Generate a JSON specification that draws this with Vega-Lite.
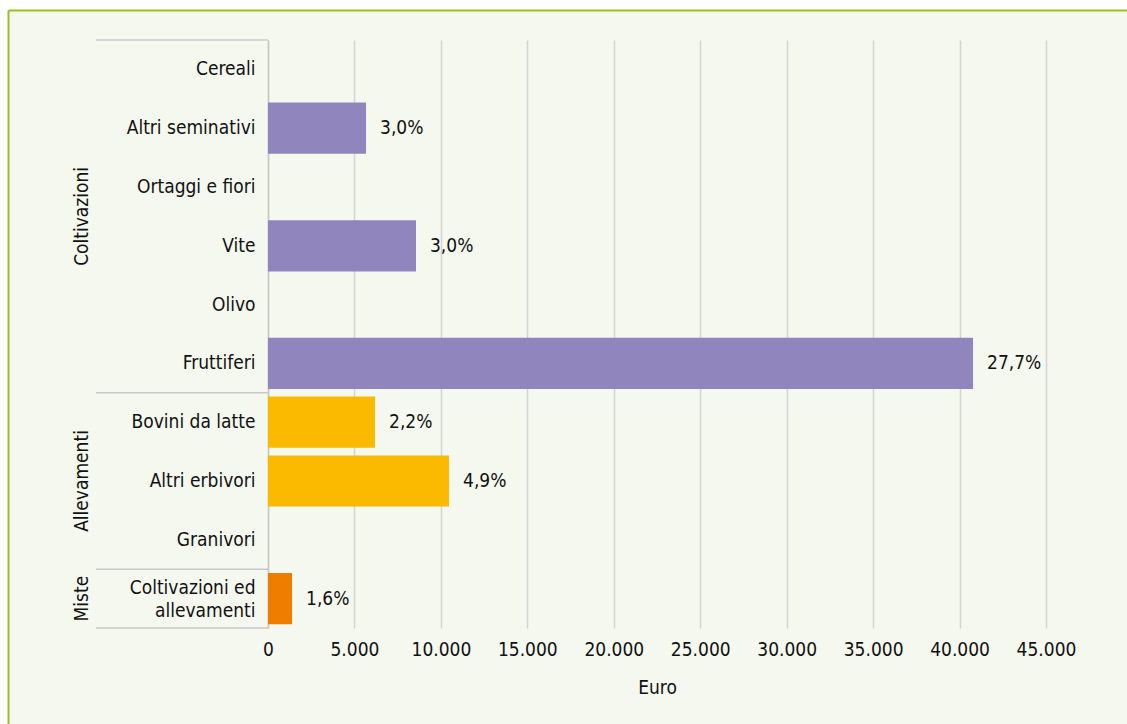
{
  "$schema": "https://vega.github.io/schema/vega-lite/v6.json",
  "width": 1119,
  "height": 714,
  "autosize": {"type": "none"},
  "padding": {"left": 8, "top": 10, "right": 0, "bottom": 0},
  "background": "#FFFFFF",
  "config": {
    "view": {"stroke": null, "fill": "#F5F8EE"},
    "font": "Liberation Sans Narrow, DejaVu Sans Condensed, Roboto",
    "locale": {"number": {"decimal": ",", "thousands": ".", "grouping": [3], "currency": ["", " €"]}}
  },
  "data": {
    "values": [
      {"gruppo": "Coltivazioni", "ote": "Cereali", "euro": null, "quota": null},
      {"gruppo": "Coltivazioni", "ote": "Altri seminativi", "euro": 5670, "quota": "3,0%"},
      {"gruppo": "Coltivazioni", "ote": "Ortaggi e fiori", "euro": null, "quota": null},
      {"gruppo": "Coltivazioni", "ote": "Vite", "euro": 8560, "quota": "3,0%"},
      {"gruppo": "Coltivazioni", "ote": "Olivo", "euro": null, "quota": null},
      {"gruppo": "Coltivazioni", "ote": "Fruttiferi", "euro": 40780, "quota": "27,7%"},
      {"gruppo": "Allevamenti", "ote": "Bovini da latte", "euro": 6190, "quota": "2,2%"},
      {"gruppo": "Allevamenti", "ote": "Altri erbivori", "euro": 10470, "quota": "4,9%"},
      {"gruppo": "Allevamenti", "ote": "Granivori", "euro": null, "quota": null},
      {"gruppo": "Miste", "ote": "Coltivazioni ed allevamenti", "euro": 1390, "quota": "1,6%"}
    ]
  },
  "resolve": {"scale": {"y": "independent"}, "axis": {"x": "independent", "y": "independent"}},
  "layer": [
    {
      "encoding": {
        "y": {
          "field": "ote", "type": "nominal", "sort": null,
          "scale": {"domain": ["Cereali", "Altri seminativi", "Ortaggi e fiori", "Vite", "Olivo", "Fruttiferi", "Bovini da latte", "Altri erbivori", "Granivori", "Coltivazioni ed allevamenti"], "range": [30, 618], "paddingInner": 0, "paddingOuter": 0}
        }
      },
      "layer": [
        {
          "mark": {"type": "bar", "height": {"band": 0.87}},
          "encoding": {
            "y": {
              "field": "ote", "type": "nominal", "sort": null,
              "axis": {
                "title": null,
                "offset": -260,
                "domainColor": "#c8c8c8",
                "domainWidth": 1.5,
                "ticks": false,
                "grid": false,
                "labelPadding": 13,
                "labelFontSize": 19,
                "labelColor": "#111111",
                "labelLimit": 220,
                "labelLineHeight": 23,
                "labelOffset": {"condition": {"test": "datum.value === 'Coltivazioni ed allevamenti'", "value": -11}, "value": 0},
                "labelExpr": "datum.value === 'Coltivazioni ed allevamenti' ? ['Coltivazioni ed', 'allevamenti'] : datum.value"
              }
            },
            "x": {
              "field": "euro", "type": "quantitative",
              "scale": {"domain": [-15039, 49685], "nice": false, "zero": false},
              "axis": {
                "orient": "bottom",
                "offset": -96,
                "values": [0, 5000, 10000, 15000, 20000, 25000, 30000, 35000, 40000, 45000],
                "format": ",d",
                "labelOverlap": false,
                "labelFlush": false,
                "grid": false,
                "domain": false,
                "ticks": true, "tickSize": -588, "tickColor": "#d4d4d4", "tickWidth": 1.5,
                "labelPadding": 600, "labelFontSize": 19, "labelColor": "#111111",
                "title": "Euro", "titleFontSize": 19, "titleFontWeight": "normal", "titleColor": "#111111",
                "titleX": 649, "titlePadding": 19
              }
            },
            "x2": {"datum": 0},
            "color": {
              "field": "gruppo", "type": "nominal",
              "scale": {"domain": ["Coltivazioni", "Allevamenti", "Miste"], "range": ["#9085BD", "#FBBA00", "#EF7D00"]},
              "legend": null
            }
          }
        },
        {
          "mark": {"type": "text", "align": "left", "baseline": "middle", "dx": 14, "fontSize": 19, "color": "#111111"},
          "encoding": {
            "x": {"field": "euro", "type": "quantitative"},
            "text": {"field": "quota"}
          }
        },
        {
          "transform": [
            {"window": [{"op": "row_number", "as": "k"}], "groupby": ["gruppo"]},
            {"filter": "datum.k === 1"}
          ],
          "mark": {"type": "rule", "color": "#c8c8c8", "strokeWidth": 1.5},
          "encoding": {
            "y": {"field": "ote", "type": "nominal", "sort": null, "bandPosition": 0},
            "x": {"datum": -9948},
            "x2": {"datum": 0}
          }
        },
        {
          "transform": [
            {"window": [{"op": "row_number", "as": "k"}, {"op": "count", "as": "n"}], "frame": [null, null]},
            {"filter": "datum.k === datum.n"}
          ],
          "mark": {"type": "rule", "color": "#c8c8c8", "strokeWidth": 1.5},
          "encoding": {
            "y": {"field": "ote", "type": "nominal", "sort": null, "bandPosition": 1},
            "x": {"datum": -9948},
            "x2": {"datum": 0}
          }
        }
      ]
    },
    {
      "transform": [
        {"window": [{"op": "row_number", "as": "pos"}]},
        {"aggregate": [{"op": "mean", "field": "pos", "as": "pos"}], "groupby": ["gruppo"]}
      ],
      "mark": {"type": "text", "align": "center", "baseline": "middle", "angle": 270, "fontSize": 19, "color": "#111111"},
      "encoding": {
        "y": {
          "field": "pos", "type": "quantitative",
          "scale": {"domain": [-0.0102, 12.133], "reverse": true, "nice": false, "zero": false},
          "axis": {"orient": "left", "title": null, "labels": false, "ticks": false, "grid": false, "domain": true, "domainColor": "#97C11F", "domainWidth": 2}
        },
        "x": {
          "datum": -10758,
          "axis": {"orient": "top", "title": null, "labels": false, "ticks": false, "grid": false, "domain": true, "domainColor": "#97C11F", "domainWidth": 2}
        },
        "text": {"field": "gruppo"}
      }
    }
  ]
}
